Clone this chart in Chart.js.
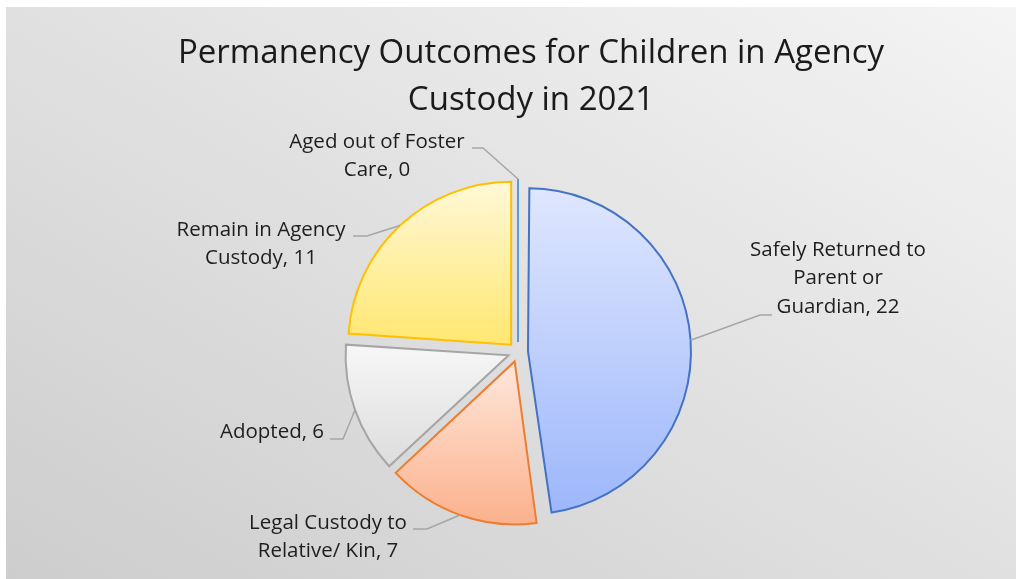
<!DOCTYPE html>
<html>
<head>
<meta charset="utf-8">
<script src="https://cdn.jsdelivr.net/npm/chart.js@4.4.0/dist/chart.umd.min.js"></script>
<style>
  html, body { margin: 0; padding: 0; background: #fff; }
  #wrap { position: relative; width: 1016px; height: 579px; overflow: hidden; }
  #bg { position: absolute; left: 6px; top: 7px; right: 0; bottom: 0;
        background: linear-gradient(to top right, #cdcdcd, #f4f4f4); }
  canvas { position: absolute; left: 0; top: 0; }
</style>
</head>
<body>
<div id="wrap"><div id="bg"></div><canvas id="pie" width="1016" height="579"></canvas></div>
<script>
// Datos del gráfico
const nameLines = [
    ['Safely Returned to', 'Parent or', 'Guardian'],
    ['Legal Custody to', 'Relative/ Kin'],
    ['Adopted'],
    ['Remain in Agency', 'Custody'],
    ['Aged out of Foster', 'Care']
];
const categories = nameLines.map(l => l.join(' '));
const values = [22, 7, 6, 11, 0];
const titleLines = ['Permanency Outcomes for Children in Agency', 'Custody in 2021'];

// Estilos de las porciones (degradado arriba -> abajo)
const fills = [
    ['#dfe7fe', '#9db7fb'],
    ['#fee4d7', '#fbae87'],
    ['#f6f6f6', '#dcdcdc'],
    ['#fff9dc', '#ffe875'],
    ['#9dc3e6', '#5b9bd5']
];
const borders = ['#4472c4', '#ed7d31', '#a5a5a5', '#ffc000', '#5b9bd5'];

// Posición de las etiquetas respecto al centro del pie (x centro, y primera línea, codo y final de la guía)
const labelPos = [
    { x: 320, y: -102, bx: 242, ex: 254, ey: -37 },
    { x: -190, y: 171, bx: -91, ex: -105, ey: 177 },
    { x: -246, y: 80, bx: -175, ex: -188, ey: 87 },
    { x: -257, y: -122, bx: -151, ex: -165, ey: -116 },
    { x: -141, y: -210, bx: -35, ex: -46, ey: -204 }
];

const PIE_R = 163;
const EXPLODE = 10;
const FONT = '"Open Sans", sans-serif';
const total = values.reduce((a, b) => a + b, 0);

const sweep = (i) => values[i] / total * Math.PI * 2;
const fixOf = (i) => 1 - Math.sin(Math.min(Math.PI, sweep(i)));

function sliceGradient(chart, i) {
    const area = chart.chartArea;
    if (!area) return fills[i][1];
    const cx = (area.left + area.right) / 2, cy = (area.top + area.bottom) / 2;
    let a0 = -Math.PI / 2;
    for (let k = 0; k < i; k++) a0 += sweep(k);
    const a1 = a0 + sweep(i);
    const oy = Math.sin((a0 + a1) / 2) * EXPLODE;
    let top = cy, bottom = cy;
    for (let t = 0; t <= 60; t++) {
        const y = cy + Math.sin(a0 + (a1 - a0) * t / 60) * PIE_R;
        top = Math.min(top, y);
        bottom = Math.max(bottom, y);
    }
    const g = chart.ctx.createLinearGradient(0, top + oy, 0, bottom + oy);
    g.addColorStop(0, fills[i][0]);
    g.addColorStop(1, fills[i][1]);
    return g;
}

// Chart.js agranda el radio de las porciones desplazadas; lo compensamos
const explodeFix = {
    id: 'explodeFix',
    afterDatasetsUpdate(chart) {
        chart.getDatasetMeta(0).data.forEach((arc, i) => {
            arc.outerRadius = PIE_R - EXPLODE * fixOf(i);
        });
    }
};

// Etiquetas, líneas guía, porción de valor 0 y título
const annotations = {
    id: 'annotations',
    afterDatasetsDraw(chart) {
        const ctx = chart.ctx;
        const meta = chart.getDatasetMeta(0);
        const cx0 = meta.data[0].x, cy0 = meta.data[0].y;
        ctx.save();
        meta.data.forEach((arc, i) => {
            const mid = (arc.startAngle + arc.endAngle) / 2;
            const ox = arc.x + Math.cos(mid) * EXPLODE;
            const oy = arc.y + Math.sin(mid) * EXPLODE;
            if (values[i] === 0) {
                ctx.strokeStyle = borders[i];
                ctx.lineWidth = 2;
                ctx.beginPath();
                ctx.moveTo(ox, oy);
                ctx.lineTo(ox + Math.cos(mid) * PIE_R, oy + Math.sin(mid) * PIE_R);
                ctx.stroke();
            }
            const px = ox + Math.cos(mid) * PIE_R;
            const py = oy + Math.sin(mid) * PIE_R;
            const p = labelPos[i];
            ctx.strokeStyle = '#a6a6a6';
            ctx.lineWidth = 1.5;
            ctx.beginPath();
            ctx.moveTo(px, py);
            ctx.lineTo(cx0 + p.bx, cy0 + p.ey);
            ctx.lineTo(cx0 + p.ex, cy0 + p.ey);
            ctx.stroke();

            const lines = nameLines[i].slice();
            lines[lines.length - 1] += ', ' + values[i];
            ctx.fillStyle = '#1e1e1e';
            ctx.font = '20.5px ' + FONT;
            ctx.textAlign = 'center';
            ctx.textBaseline = 'middle';
            lines.forEach((t, k) => ctx.fillText(t, cx0 + p.x, cy0 + p.y + k * 28.5));
        });

        ctx.fillStyle = '#1a1a1a';
        ctx.font = '33px ' + FONT;
        ctx.textAlign = 'center';
        ctx.textBaseline = 'middle';
        titleLines.forEach((t, k) => ctx.fillText(t, 531, 54 + k * 47));
        ctx.restore();
    }
};

new Chart(document.getElementById('pie').getContext('2d'), {
    type: 'pie',
    plugins: [explodeFix, annotations],
    data: {
        labels: categories,
        datasets: [{
            data: values,
            radius: PIE_R,
            offset: EXPLODE * 4,
            backgroundColor: (c) => sliceGradient(c.chart, c.dataIndex),
            borderColor: borders,
            borderWidth: 2,
            borderJoinStyle: 'miter'
        }]
    },
    options: {
        responsive: false,
        animation: false,
        layout: { padding: { left: 20, right: 0, top: 125, bottom: 0 } },
        plugins: {
            legend: { display: false },
            tooltip: { enabled: false }
        }
    }
});
</script>
</body>
</html>
